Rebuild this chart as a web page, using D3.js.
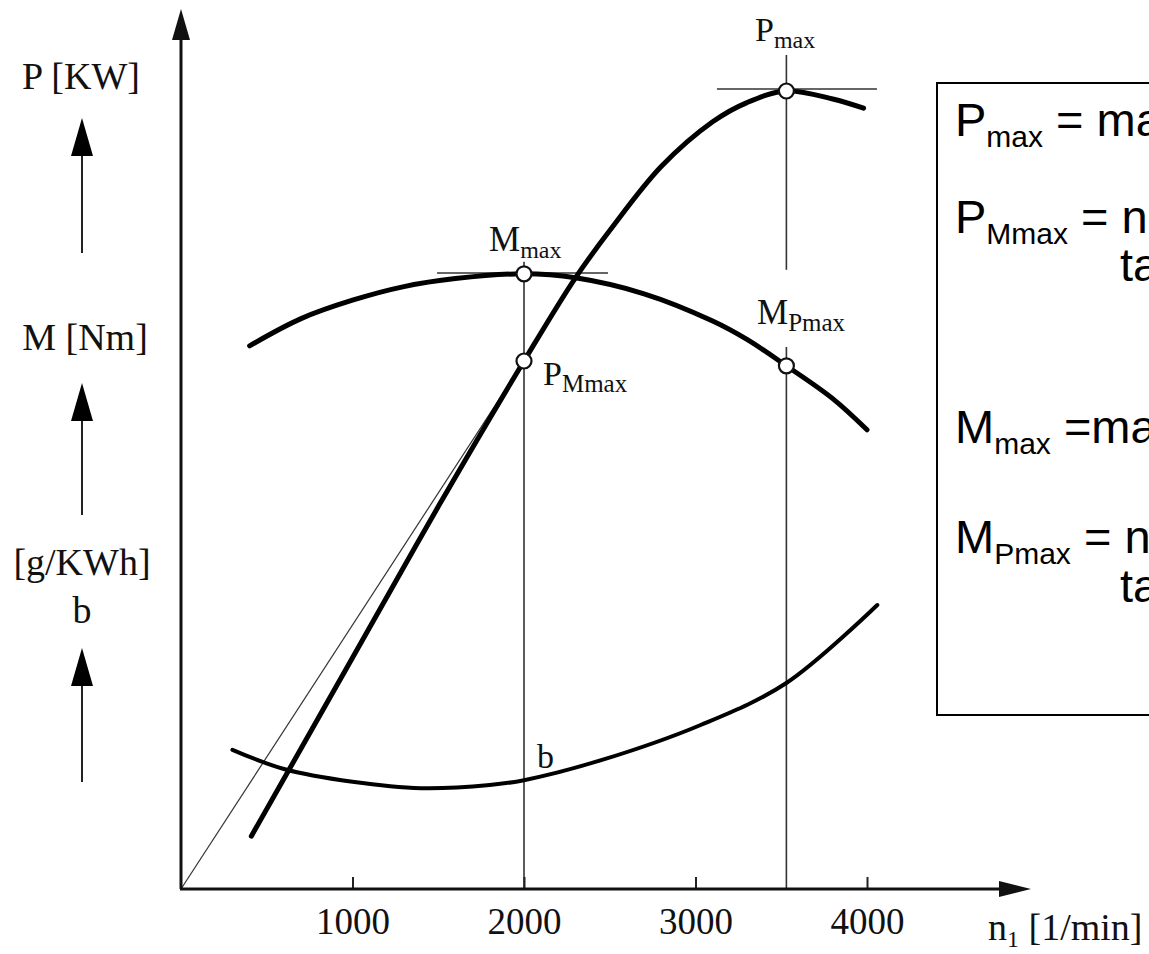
<!DOCTYPE html>
<html><head><meta charset="utf-8">
<script src="https://cdn.jsdelivr.net/npm/d3@7"></script>
<style>
html,body{margin:0;padding:0;background:#fff;overflow:hidden;}
svg{display:block;}
</style></head>
<body><div id="chart"></div>
<script>
// ---- data (y values in relative units 0..100) ----
const speedM = [400, 700, 1000, 1300, 1600, 2000, 2300, 2700, 3100, 3300, 3530, 3800, 4000];
const torque = [67.9, 71.3, 73.6, 75.3, 76.3, 76.9, 76.4, 74.4, 71.0, 68.7, 65.4, 61.3, 57.4];
const speedP = [410, 1000, 1500, 2000, 2300, 2500, 2800, 3100, 3300, 3530, 3800, 3980];
const power  = [6.6, 28.9, 47.8, 66.0, 76.4, 82.3, 90.3, 95.9, 98.3, 99.75, 98.75, 97.6];
const speedB = [300, 600, 1000, 1400, 1800, 2000, 2450, 3030, 3530, 4060];
const consumption = [17.4, 15.0, 13.4, 12.6, 13.0, 13.6, 16.1, 20.5, 25.75, 35.5];
const tickValues = [1000, 2000, 3000, 4000];
const tickLabels = ["1000", "2000", "3000", "4000"];
const nMmax = 2000, nPmax = 3530;
const Mmax = 76.9, PMmax = 66.0, Pmax = 99.75, MPmax = 65.4;
const yLabels = ["P [KW]", "M [Nm]", "[g/KWh]", "b"];
const boxLines = [
  {main:"P", sub:"max", rest:" = ma"},
  {main:"P", sub:"Mmax", rest:" = n"},
  {cont:"ta"},
  {main:"M", sub:"max", rest:" =ma"},
  {main:"M", sub:"Pmax", rest:" = n"},
  {cont:"ta"}
];

const W = 1149, H = 954;
const svg = d3.select("#chart").append("svg").attr("width", W).attr("height", H);
const x = d3.scaleLinear().domain([0, 4000]).range([181, 867]);
const y = d3.scaleLinear().domain([0, 100]).range([889, 89]);
const serif = "'Liberation Serif','Times New Roman',serif";
const sans = "'Liberation Sans',Arial,sans-serif";

// thin reference lines
const thin = svg.append("g").attr("stroke", "#333").attr("stroke-width", 1.6).attr("fill", "none");
thin.append("line").attr("x1", x(nMmax)).attr("x2", x(nMmax)).attr("y1", y(78.4)).attr("y2", y(0));
thin.append("line").attr("x1", x(nPmax)).attr("x2", x(nPmax)).attr("y1", y(104.25)).attr("y2", y(77.4));
thin.append("line").attr("x1", x(nPmax)).attr("x2", x(nPmax)).attr("y1", y(67.75)).attr("y2", y(0));
thin.append("line").attr("x1", x(1493)).attr("x2", x(2490)).attr("y1", y(77.0)).attr("y2", y(77.0));
thin.append("line").attr("x1", x(3125)).attr("x2", x(4058)).attr("y1", y(100)).attr("y2", y(100));
thin.append("line").attr("stroke-width", 1.2).attr("x1", x(0)).attr("y1", y(0)).attr("x2", x(nMmax)).attr("y2", y(PMmax));

// curves
const line = d3.line().x(d => x(d[0])).y(d => y(d[1])).curve(d3.curveCatmullRom.alpha(0.5));
const curves = svg.append("g").attr("fill", "none").attr("stroke", "#000").attr("stroke-width", 5).attr("stroke-linecap", "round");
curves.append("path").attr("d", line(d3.zip(speedM, torque)));
curves.append("path").attr("d", line(d3.zip(speedP, power)));
curves.append("path").attr("stroke-width", 4).attr("d", line(d3.zip(speedB, consumption)));

// axes
const ax = svg.append("g").attr("transform", `translate(0,${y(0)})`)
  .call(d3.axisBottom(x).tickValues(tickValues).tickFormat((d, i) => tickLabels[i]).tickSize(-12).tickPadding(19));
ax.select(".domain").remove();
ax.selectAll(".tick line").attr("stroke", "#222").attr("stroke-width", 2);
ax.selectAll(".tick text").attr("font-family", serif).attr("font-size", 37).attr("fill", "#111");

const axisG = svg.append("g").attr("stroke", "#111").attr("fill", "#111");
axisG.append("line").attr("x1", x(0)).attr("y1", y(0)).attr("x2", x(0)).attr("y2", 36).attr("stroke-width", 3);
axisG.append("path").attr("stroke", "none").attr("d", `M${x(0)},9 L${x(0)-9},40 L${x(0)+9},40 Z`);
axisG.append("line").attr("x1", x(0)-1).attr("y1", y(0)).attr("x2", 1004).attr("y2", y(0)).attr("stroke-width", 3);
axisG.append("path").attr("stroke", "none").attr("d", `M1031,${y(0)} L999,${y(0)-8} L999,${y(0)+8} Z`);

const xl = svg.append("text").attr("x", 988).attr("y", 940).attr("font-family", serif).attr("font-size", 38).attr("fill", "#111");
xl.append("tspan").text("n");
xl.append("tspan").attr("font-size", 24).attr("dy", 7).text("1");
xl.append("tspan").attr("dy", -7).text(" [1/min]");

// left labels & arrows
const left = svg.append("g").attr("font-family", serif).attr("font-size", 38).attr("fill", "#111").attr("text-anchor", "middle");
left.append("text").attr("x", 81).attr("y", 89).text(yLabels[0]);
left.append("text").attr("x", 85).attr("y", 350).text(yLabels[1]);
left.append("text").attr("x", 82).attr("y", 575).text(yLabels[2]);
left.append("text").attr("x", 82).attr("y", 623).text(yLabels[3]);
const arrows = [[118, 253], [383, 515], [648, 782]];
arrows.forEach(([t, b]) => {
  svg.append("line").attr("x1", 82).attr("x2", 82).attr("y1", t + 30).attr("y2", b).attr("stroke", "#222").attr("stroke-width", 2);
  svg.append("path").attr("d", `M82,${t} L71,${t+38} L93,${t+38} Z`).attr("fill", "#000");
});

// marker circles
const pts = [[nPmax, Pmax], [nPmax, MPmax], [nMmax, Mmax], [nMmax, PMmax]];
svg.append("g").selectAll("circle").data(pts).join("circle")
  .attr("cx", d => x(d[0])).attr("cy", d => y(d[1])).attr("r", 7.5)
  .attr("fill", "#fff").attr("stroke", "#111").attr("stroke-width", 2.2);

// point labels
function subLabel(px, py, main, sub, size, subSize) {
  const t = svg.append("text").attr("x", px).attr("y", py).attr("font-family", serif)
    .attr("font-size", size).attr("fill", "#111");
  t.append("tspan").text(main);
  t.append("tspan").attr("font-size", subSize).attr("dy", 7).text(sub);
}
subLabel(755, 41, "P", "max", 34, 24);
subLabel(489, 251, "M", "max", 35, 24);
subLabel(543, 385, "P", "Mmax", 34, 25);
subLabel(757, 324, "M", "Pmax", 35, 25);
svg.append("text").attr("x", 537).attr("y", 768).attr("font-family", serif).attr("font-size", 34).attr("fill", "#111").text("b");

// text box (its right part runs past the page edge, as in the reference)
svg.append("rect").attr("x", 937).attr("y", 83).attr("width", 300).attr("height", 632)
  .attr("fill", "none").attr("stroke", "#000").attr("stroke-width", 2);
const baselines = [136, 233, 281, 443, 553, 602];
boxLines.forEach((l, i) => {
  const t = svg.append("text").attr("y", baselines[i]).attr("font-family", sans).attr("font-size", 47).attr("fill", "#000");
  if (l.cont) { t.attr("x", 1120).text(l.cont); return; }
  t.attr("x", 955);
  t.append("tspan").text(l.main);
  t.append("tspan").attr("font-size", 30).attr("dy", 11).text(l.sub);
  t.append("tspan").attr("dy", -11).text(l.rest);
});
</script></body></html>
